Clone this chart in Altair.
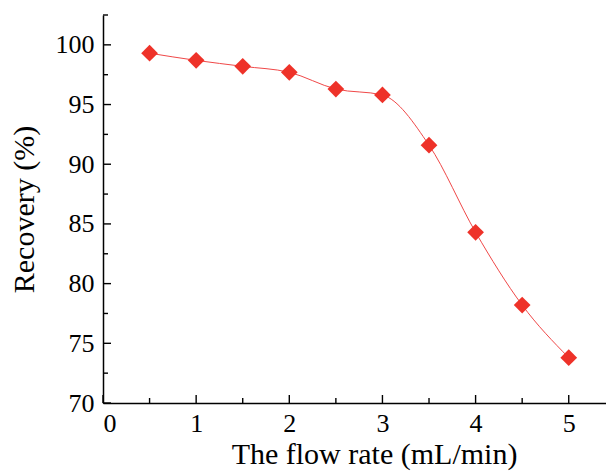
import altair as alt
import pandas as pd

flow = [0.5, 1.0, 1.5, 2.0, 2.5, 3.0, 3.5, 4.0, 4.5, 5.0]
recovery = [99.3, 98.7, 98.2, 97.7, 96.3, 95.8, 91.6, 84.3, 78.2, 73.8]

x_major = [0, 1, 2, 3, 4, 5]
x_minor = [0.5, 1.5, 2.5, 3.5, 4.5]
y_major = [70, 75, 80, 85, 90, 95, 100]
y_minor = [72.5, 77.5, 82.5, 87.5, 92.5, 97.5, 102.5]

W, H = 503, 388
FONT = "Liberation Serif"
XT = "The flow rate (mL/min)"
YT = "Recovery (%)"

df = pd.DataFrame({"flow": flow, "recovery": recovery})

xs = alt.Scale(domain=[0, 5.4], nice=False, zero=False)
ys = alt.Scale(domain=[70, 102.5], nice=False, zero=False)

xaxis = alt.Axis(values=x_major, format="d", ticks=False, grid=False,
                 labelFontSize=26, labelFont=FONT, labelColor="black", labelPadding=7,
                 titleFontSize=30, titleFont=FONT, titleFontWeight="normal", titleColor="black",
                 titlePadding=3, titleX=271, domainColor="black", domainWidth=1.5)
yaxis = alt.Axis(values=y_major, format="d", ticks=False, grid=False,
                 labelFontSize=26, labelFont=FONT, labelColor="black", labelPadding=9,
                 titleFontSize=30, titleFont=FONT, titleFontWeight="normal", titleColor="black",
                 titlePadding=16, domainColor="black", domainWidth=1.5)

X = lambda f: alt.X(f, scale=xs, axis=xaxis, title=XT)
Y = lambda f: alt.Y(f, scale=ys, axis=yaxis, title=YT)

line = alt.Chart(df).mark_line(color="#F04848", strokeWidth=1, interpolate="monotone").encode(
    x=X("flow:Q"), y=Y("recovery:Q"))
pts = alt.Chart(df).mark_point(shape="diamond", filled=True, size=280, opacity=1,
                               color="#EE3229").encode(x=X("flow:Q"), y=Y("recovery:Q"))

def xticks(vals, length):
    d = pd.DataFrame({"v": vals})
    return alt.Chart(d).mark_rule(color="black", strokeWidth=1.4).encode(
        x=X("v:Q"), y=alt.value(H), y2=alt.value(H - length))

def yticks(vals, length):
    d = pd.DataFrame({"v": vals})
    return alt.Chart(d).mark_rule(color="black", strokeWidth=1.4).encode(
        y=Y("v:Q"), x=alt.value(0), x2=alt.value(length))

chart = alt.layer(
    line, pts,
    xticks(x_major, 8), xticks(x_minor, 5),
    yticks(y_major, 8), yticks(y_minor, 5),
).properties(
    width=W, height=H,
    autosize=alt.AutoSizeParams(type="none"),
    padding={"left": 95, "top": 7, "right": 0, "bottom": 68},
).configure(font=FONT).configure_view(stroke=None).configure_axis(labelFont=FONT, titleFont=FONT)

chart.save("out.html", embed_options={"renderer": "svg", "actions": False})
